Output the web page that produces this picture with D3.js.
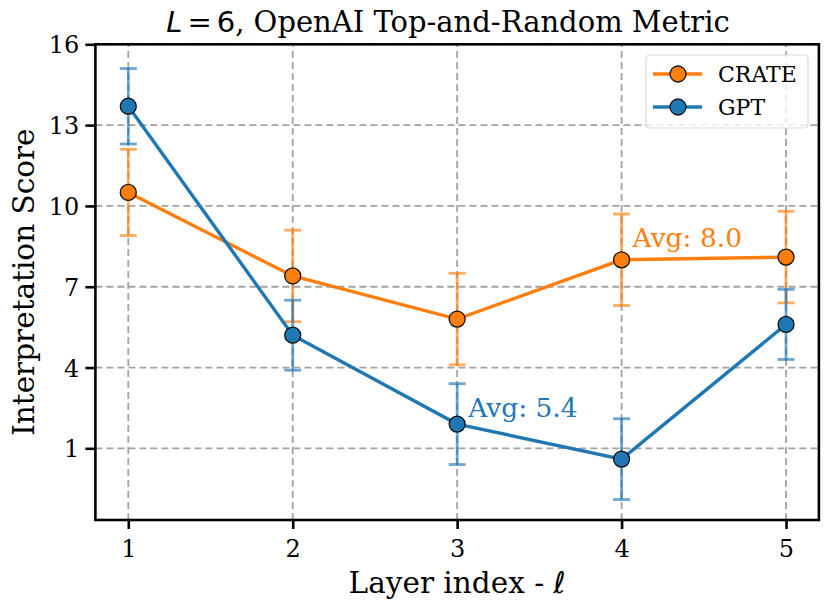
<!DOCTYPE html>
<html>
<head>
<meta charset="utf-8">
<script src="https://cdn.jsdelivr.net/npm/d3@7"></script>
<style>
  body { margin: 0; background: #fff; }
  text { font-family: "DejaVu Serif", serif; }
</style>
</head>
<body>
<div class="chart"></div>
<script>
// data
const layers = [1, 2, 3, 4, 5];
const crateScore = [10.5, 7.4, 5.8, 8.0, 8.1];
const crateErr = [1.6, 1.7, 1.7, 1.7, 1.7];
const gptScore = [13.7, 5.2, 1.9, 0.6, 5.6];
const gptErr = [1.4, 1.3, 1.5, 1.5, 1.3];
const yTicks = [1, 4, 7, 10, 13, 16];
const seriesNames = ['CRATE', 'GPT'];
const avgLabels = ['Avg: 8.0', 'Avg: 5.4'];

const colors = { CRATE: '#ff7f0e', GPT: '#1f77b4' };

const series = [
    { name: 'CRATE', values: crateScore, err: crateErr, avg: avgLabels[0], avgAt: 3 },
    { name: 'GPT', values: gptScore, err: gptErr, avg: avgLabels[1], avgAt: 2 }
];

// chart
const width = 830;
const height = 613;
const margin = { top: 44.3, right: 11.1, bottom: 93, left: 95.4 };

const xScale = d3.scaleLinear()
    .domain([0.8, 5.2])
    .range([margin.left, width - margin.right]);
const yScale = d3.scaleLinear()
    .domain([-1.66, 16])
    .range([height - margin.bottom, margin.top]);

const svg = d3.select('.chart')
    .append('svg')
    .attr('width', width)
    .attr('height', height);

// grid
const grid = svg.append('g').attr('class', 'grid');
grid.selectAll('.vgrid')
    .data(layers)
    .enter()
    .append('line')
    .attr('x1', d => xScale(d)).attr('x2', d => xScale(d))
    .attr('y1', yScale.range()[0]).attr('y2', yScale.range()[1]);
grid.selectAll('.hgrid')
    .data(yTicks)
    .enter()
    .append('line')
    .attr('x1', xScale.range()[0]).attr('x2', xScale.range()[1])
    .attr('y1', d => yScale(d)).attr('y2', d => yScale(d));
grid.selectAll('line')
    .style('stroke', '#a3a3a3')
    .style('stroke-width', 1.8)
    .style('stroke-dasharray', '7,4');

// error bars
const line = d3.line()
    .x((d, i) => xScale(layers[i]))
    .y(d => yScale(d));

series.forEach(s => {
    const g = svg.append('g').attr('class', 'series-' + s.name);
    const col = colors[s.name];
    const eb = g.append('g').attr('class', 'errbars')
        .style('stroke', col)
        .style('stroke-opacity', 0.65)
        .style('stroke-width', 2.8);
    eb.selectAll('.stem')
        .data(s.values)
        .enter()
        .append('line')
        .attr('x1', (d, i) => xScale(layers[i]))
        .attr('x2', (d, i) => xScale(layers[i]))
        .attr('y1', (d, i) => yScale(d - s.err[i]))
        .attr('y2', (d, i) => yScale(d + s.err[i]));
    [1, -1].forEach(sign => {
        eb.selectAll('.cap' + sign)
            .data(s.values)
            .enter()
            .append('line')
            .attr('x1', (d, i) => xScale(layers[i]) - 8.5)
            .attr('x2', (d, i) => xScale(layers[i]) + 8.5)
            .attr('y1', (d, i) => yScale(d + sign * s.err[i]))
            .attr('y2', (d, i) => yScale(d + sign * s.err[i]));
    });
});

// lines, markers, averages
series.forEach(s => {
    const col = colors[s.name];
    const g = svg.append('g');
    g.append('path')
        .datum(s.values)
        .attr('d', line)
        .style('fill', 'none')
        .style('stroke', col)
        .style('stroke-width', 3.4);
    g.selectAll('circle')
        .data(s.values)
        .enter()
        .append('circle')
        .attr('cx', (d, i) => xScale(layers[i]))
        .attr('cy', d => yScale(d))
        .attr('r', 8)
        .style('fill', col)
        .style('stroke', '#111')
        .style('stroke-width', 1.3);
    const i = s.avgAt;
    g.append('text')
        .attr('x', xScale(layers[i]) + 11)
        .attr('y', yScale(s.values[i] + s.err[i]) + 33)
        .style('font-size', '26.5px')
        .style('fill', col)
        .text(s.avg);
});

// axes
const xAxis = d3.axisBottom(xScale)
    .tickValues(layers)
    .tickFormat(d3.format('d'))
    .tickSizeInner(9)
    .tickSizeOuter(0)
    .tickPadding(11);
const yAxis = d3.axisLeft(yScale)
    .tickValues(yTicks)
    .tickSizeInner(10)
    .tickSizeOuter(0)
    .tickPadding(6);

const xAxisDraw = svg.append('g')
    .attr('transform', `translate(0,${yScale.range()[0]})`)
    .call(xAxis);
const yAxisDraw = svg.append('g')
    .attr('transform', `translate(${xScale.range()[0]},0)`)
    .call(yAxis);

[xAxisDraw, yAxisDraw].forEach(ax => {
    ax.select('.domain').remove();
    ax.selectAll('.tick line').style('stroke', '#000').style('stroke-width', 2.6);
    ax.selectAll('.tick text')
        .style('font-family', '"DejaVu Serif", serif')
        .style('font-size', '24px')
        .style('fill', '#000');
});
yAxisDraw.selectAll('.tick text').attr('dy', '0.36em');

// frame
svg.append('rect')
    .attr('x', xScale.range()[0])
    .attr('y', yScale.range()[1])
    .attr('width', xScale.range()[1] - xScale.range()[0])
    .attr('height', yScale.range()[0] - yScale.range()[1])
    .style('fill', 'none')
    .style('stroke', '#000')
    .style('stroke-width', 2.6);

// labels
svg.append('text')
    .attr('x', (xScale.range()[0] + xScale.range()[1]) / 2)
    .attr('y', 593)
    .attr('text-anchor', 'middle')
    .style('font-size', '29.5px')
    .text('Layer index - ')
    .append('tspan')
    .style('font-family', '"DejaVu Sans", sans-serif')
    .style('font-style', 'italic')
    .text('ℓ');

svg.append('text')
    .attr('transform', `translate(34,${(yScale.range()[0] + yScale.range()[1]) / 2}) rotate(-90)`)
    .attr('text-anchor', 'middle')
    .style('font-size', '29.5px')
    .text('Interpretation Score');

// title (math part in sans like mathtext)
const title = svg.append('text')
    .attr('x', 448)
    .attr('y', 32)
    .attr('text-anchor', 'middle')
    .style('font-size', '29px');
title.append('tspan')
    .style('font-family', '"DejaVu Sans", sans-serif')
    .style('font-style', 'italic')
    .text('L');
title.append('tspan')
    .attr('dx', 5)
    .style('font-family', '"DejaVu Sans", sans-serif')
    .text('=');
title.append('tspan')
    .attr('dx', 5)
    .style('font-family', '"DejaVu Sans", sans-serif')
    .text('6');
title.append('tspan')
    .text(', OpenAI Top-and-Random Metric');

// legend
const legend = svg.append('g').attr('transform', 'translate(646,55)');
legend.append('rect')
    .attr('width', 162)
    .attr('height', 73)
    .attr('rx', 4)
    .style('fill', 'rgba(255,255,255,0.8)')
    .style('stroke', '#d9d9d9')
    .style('stroke-width', 1.2);
const item = legend.selectAll('.item')
    .data(seriesNames)
    .enter()
    .append('g')
    .attr('transform', (d, i) => `translate(0,${19 + i * 33})`);
item.append('line')
    .attr('x1', 7).attr('x2', 56)
    .style('stroke', d => colors[d])
    .style('stroke-width', 3.4);
item.append('circle')
    .attr('cx', 32)
    .attr('r', 8)
    .style('fill', d => colors[d])
    .style('stroke', '#111')
    .style('stroke-width', 1.3);
item.append('text')
    .attr('x', 72)
    .attr('dy', '0.36em')
    .style('font-size', '22px')
    .text(d => d);
</script>
</body>
</html>
